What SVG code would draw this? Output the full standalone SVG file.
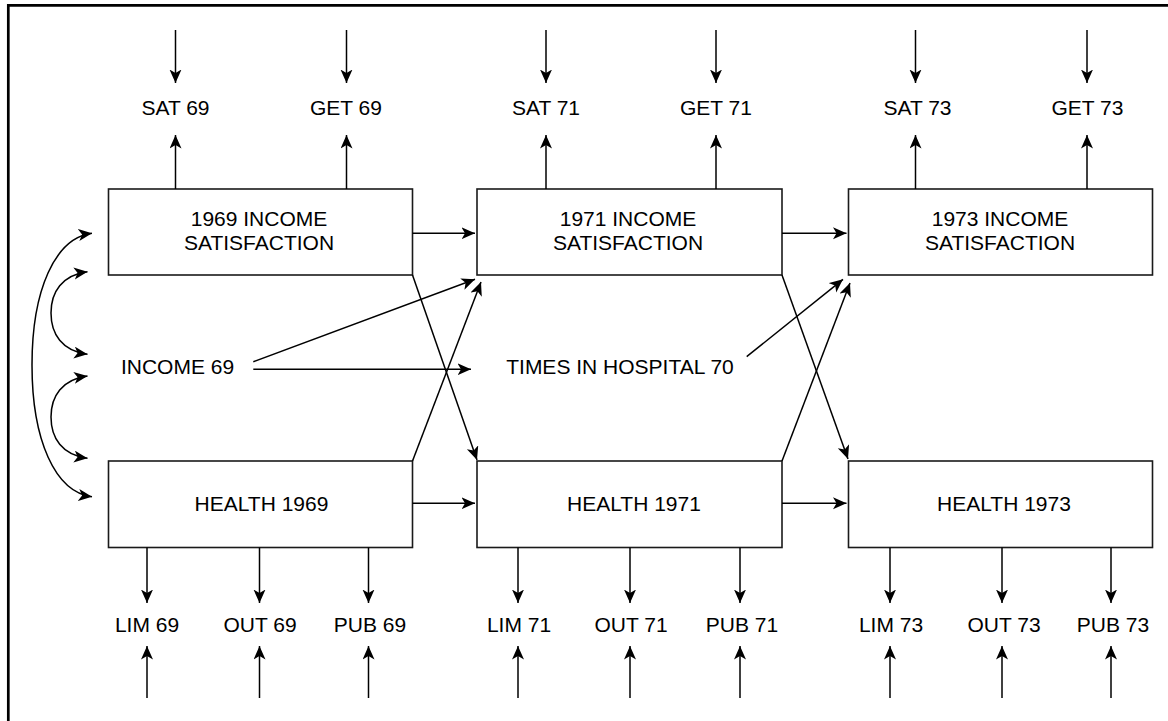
<svg xmlns="http://www.w3.org/2000/svg" width="1168" height="721" viewBox="0 0 1168 721">
  <style>
    .box { fill: #fff; stroke: #1a1a1a; stroke-width: 1.6; }
    .lbl { font-family: "Liberation Sans", Arial, Helvetica, sans-serif; font-size: 21px; fill: #000; text-anchor: middle; }
    .conn { fill: none; stroke: #000; stroke-width: 1.5; marker-end: url(#arrow); }
    .both { marker-start: url(#arrowStart); }
  </style>
  <defs>
    <marker id="arrow" markerUnits="userSpaceOnUse" markerWidth="15" markerHeight="13" refX="13.5" refY="6" orient="auto">
      <path d="M0,0 L13.5,6 L0,12 L3.5,6 z" fill="#000"/>
    </marker>
    <marker id="arrowStart" markerUnits="userSpaceOnUse" markerWidth="15" markerHeight="13" refX="13.5" refY="6" orient="auto-start-reverse">
      <path d="M0,0 L13.5,6 L0,12 L3.5,6 z" fill="#000"/>
    </marker>
  </defs>

  <rect width="1168" height="721" fill="#fff"/>
  <!-- frame -->
  <path d="M8.3,721 V5.3 H1168" fill="none" stroke="#000" stroke-width="2.7"/>

  <!-- latent variables -->
  <g id="inc69">
    <rect class="box" x="108.5" y="189" width="304" height="86"/>
    <text class="lbl" x="259" y="225.7">1969 INCOME</text>
    <text class="lbl" x="259" y="250">SATISFACTION</text>
  </g>
  <g id="inc71">
    <rect class="box" x="477" y="189" width="305" height="86"/>
    <text class="lbl" x="628" y="225.7">1971 INCOME</text>
    <text class="lbl" x="628" y="250">SATISFACTION</text>
  </g>
  <g id="inc73">
    <rect class="box" x="848.5" y="189" width="304" height="86"/>
    <text class="lbl" x="1000" y="225.7">1973 INCOME</text>
    <text class="lbl" x="1000" y="250">SATISFACTION</text>
  </g>
  <g id="hlt69">
    <rect class="box" x="108.5" y="461" width="304" height="86.5"/>
    <text class="lbl" x="261.5" y="510.7">HEALTH 1969</text>
  </g>
  <g id="hlt71">
    <rect class="box" x="477" y="461" width="305" height="86.5"/>
    <text class="lbl" x="634" y="510.7">HEALTH 1971</text>
  </g>
  <g id="hlt73">
    <rect class="box" x="848.5" y="461" width="304" height="86.5"/>
    <text class="lbl" x="1004" y="510.7">HEALTH 1973</text>
  </g>

  <!-- observed variables -->
  <g id="income69"><text class="lbl" x="177.5" y="374">INCOME 69</text></g>
  <g id="hosp70"><text class="lbl" x="620" y="374">TIMES IN HOSPITAL 70</text></g>

  <g id="sat69"><text class="lbl" x="175.5" y="115">SAT 69</text></g>
  <g id="get69"><text class="lbl" x="346" y="115">GET 69</text></g>
  <g id="sat71"><text class="lbl" x="546" y="115">SAT 71</text></g>
  <g id="get71"><text class="lbl" x="716" y="115">GET 71</text></g>
  <g id="sat73"><text class="lbl" x="917.5" y="115">SAT 73</text></g>
  <g id="get73"><text class="lbl" x="1087.5" y="115">GET 73</text></g>

  <g id="lim69"><text class="lbl" x="147" y="631.7">LIM 69</text></g>
  <g id="out69"><text class="lbl" x="260" y="631.7">OUT 69</text></g>
  <g id="pub69"><text class="lbl" x="370" y="631.7">PUB 69</text></g>
  <g id="lim71"><text class="lbl" x="519" y="631.7">LIM 71</text></g>
  <g id="out71"><text class="lbl" x="631" y="631.7">OUT 71</text></g>
  <g id="pub71"><text class="lbl" x="742" y="631.7">PUB 71</text></g>
  <g id="lim73"><text class="lbl" x="891" y="631.7">LIM 73</text></g>
  <g id="out73"><text class="lbl" x="1004" y="631.7">OUT 73</text></g>
  <g id="pub73"><text class="lbl" x="1113" y="631.7">PUB 73</text></g>

  <g id="connectors">
    <!-- error terms on income indicators -->
    <path class="conn" d="M175.5,30 V83"/>
    <path class="conn" d="M346.5,30 V83"/>
    <path class="conn" d="M546,30 V83"/>
    <path class="conn" d="M716,30 V83"/>
    <path class="conn" d="M915.5,30 V83"/>
    <path class="conn" d="M1087,30 V83"/>
    <!-- loadings on income indicators -->
    <path class="conn" d="M175.5,189 V135"/>
    <path class="conn" d="M346.5,189 V135"/>
    <path class="conn" d="M546,189 V135"/>
    <path class="conn" d="M716,189 V135"/>
    <path class="conn" d="M915.5,189 V135"/>
    <path class="conn" d="M1087,189 V135"/>

    <!-- loadings on health indicators -->
    <path class="conn" d="M147,547.5 V603"/>
    <path class="conn" d="M259.5,547.5 V603"/>
    <path class="conn" d="M368.5,547.5 V603"/>
    <path class="conn" d="M518,547.5 V603"/>
    <path class="conn" d="M630,547.5 V603"/>
    <path class="conn" d="M740,547.5 V603"/>
    <path class="conn" d="M890,547.5 V603"/>
    <path class="conn" d="M1002,547.5 V603"/>
    <path class="conn" d="M1111,547.5 V603"/>
    <!-- error terms on health indicators -->
    <path class="conn" d="M147,698 V646"/>
    <path class="conn" d="M259.5,698 V646"/>
    <path class="conn" d="M368.5,698 V646"/>
    <path class="conn" d="M518,698 V646"/>
    <path class="conn" d="M630,698 V646"/>
    <path class="conn" d="M740,698 V646"/>
    <path class="conn" d="M890,698 V646"/>
    <path class="conn" d="M1002,698 V646"/>
    <path class="conn" d="M1111,698 V646"/>

    <!-- stability paths -->
    <path class="conn" d="M412.5,233.3 H475"/>
    <path class="conn" d="M782,233.3 H846.5"/>
    <path class="conn" d="M412.5,503.3 H475"/>
    <path class="conn" d="M782,503.3 H846.5"/>

    <!-- cross-lagged paths -->
    <path class="conn" d="M412.5,275 L477,460"/>
    <path class="conn" d="M412.5,461 L481,282"/>
    <path class="conn" d="M782,275 L848,459"/>
    <path class="conn" d="M782,461 L850,283"/>

    <!-- exogenous paths -->
    <path class="conn" d="M253.3,361.7 L475,279.3"/>
    <path class="conn" d="M253.3,369.3 H471"/>
    <path class="conn" d="M746.7,356.7 L843,279.3"/>

    <!-- correlations among 1969 variables -->
    <path class="conn both" d="M92,233.3 C55,238 32,290 32,365 C32,440 55,492 92,496.7"/>
    <path class="conn both" d="M87.5,271.7 C62,275 51,292 51,313 C51,334 62,351 87.5,354.3"/>
    <path class="conn both" d="M87.5,376 C62,379.5 51,396 51,417 C51,438 62,455 87.5,458.3"/>
  </g>
</svg>
